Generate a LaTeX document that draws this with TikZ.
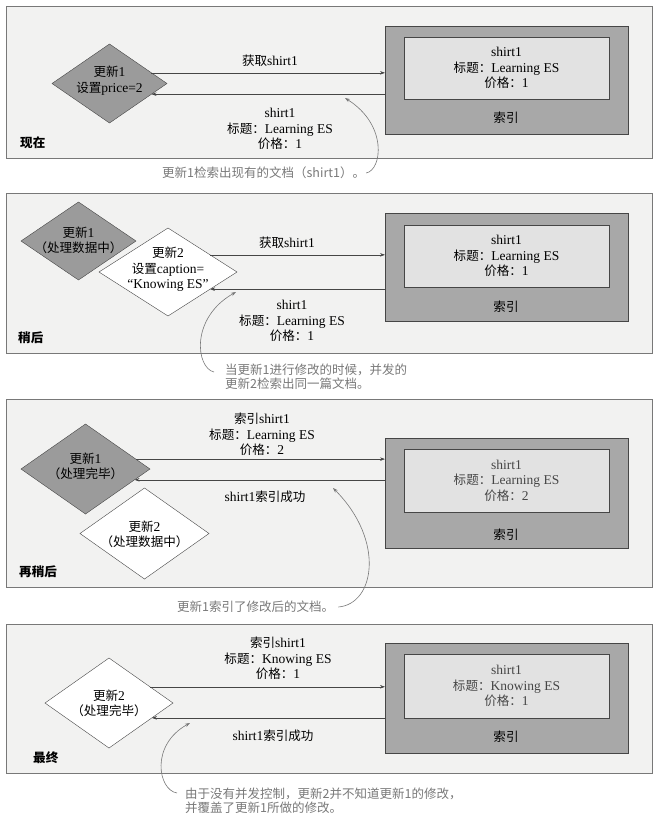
\documentclass[tikz,border=0pt]{standalone}
\usepackage{fontspec}
\setmainfont{Liberation Serif}
\newfontfamily\cjk[Scale=0.93]{Noto Sans CJK SC}
\newfontfamily\notefont{Noto Sans CJK SC}
\newcommand{\zh}[1]{{\cjk #1}}
\usetikzlibrary{shapes.geometric,arrows.meta,calc}
\definecolor{panelgray}{RGB}{242,242,241}
\definecolor{framegray}{RGB}{120,120,120}
\definecolor{indexgray}{RGB}{168,168,168}
\definecolor{docgray}{RGB}{226,226,226}
\definecolor{diamondgray}{RGB}{155,155,155}
\definecolor{linegray}{RGB}{70,70,70}
\definecolor{notegray}{RGB}{120,120,120}
\begin{document}
\begin{tikzpicture}[x=1pt,y=-1pt]
        \tikzstyle{panel}=[draw=framegray,fill=panelgray,line width=0.8pt,anchor=north west,inner sep=0,outer sep=0,minimum width=646]
        \tikzstyle{index box}=[draw=linegray,fill=indexgray,anchor=north west,inner sep=0,outer sep=0,minimum width=243]
        \tikzstyle{doc box}=[draw=linegray,fill=docgray,anchor=north west,inner sep=0,outer sep=0,minimum width=205]
        \tikzstyle{gray node}=[diamond,draw=linegray,fill=diamondgray,inner sep=0,outer sep=0]
        \tikzstyle{white node}=[diamond,draw=linegray,fill=white,inner sep=0,outer sep=0]
        \tikzstyle{txt}=[align=center,inner sep=0,font=\fontsize{13.5}{15.5}\selectfont]
        \tikzstyle{stage}=[anchor=west,inner sep=0,font=\cjk\bfseries\fontsize{13.5}{15}\selectfont]
        \tikzstyle{note}=[align=left,anchor=west,inner sep=0,text=notegray,font=\notefont\fontsize{12.5}{14}\selectfont]
        \tikzstyle{link}=[draw=linegray,line width=0.6pt,-{Stealth[length=5pt,width=3.5pt]}]
        \tikzstyle{hint}=[draw=notegray,line width=0.6pt,-{Stealth[length=5pt,width=3.5pt]}]

        \useasboundingbox (0,0) rectangle (658,820);

        % now
        \node[panel,minimum height=152](f1) at (6,6){};
        \node[index box,minimum height=108](idx1) at (385,26){};
        \node[doc box,minimum height=62](doc1) at (404,37){};
        \node[txt] at (doc1.center){shirt1\\\zh{标题：}Learning ES\\\zh{价格：}1};
        \node[txt] at (506,118){\zh{索引}};
        \node[gray node,minimum width=115,minimum height=79](u1) at (109.5,83.5){};
        \node[txt] at ([yshift=3]u1.center){\zh{更新}1\\\zh{设置}price=2};
        \coordinate(a1) at ($(u1.north)!0.73!(u1.east)$);
        \coordinate(b1) at ($(u1.east)!0.27!(u1.south)$);
        \draw[link] (a1) -- (a1 -| idx1.west);
        \draw[link] (b1 -| idx1.west) -- (b1);
        \node[txt] at (270,61){\zh{获取}shirt1};
        \node[txt] at (280,129){shirt1\\\zh{标题：}Learning ES\\\zh{价格：}1};
        \node[stage] at (20,143){现在};
        \node[note](n1) at (162,173){更新1检索出现有的文档（shirt1）。};
        \coordinate(h1) at (345,98);
        \draw[hint] ([xshift=1]n1.east) .. controls (382,170) and (388,125) .. (h1);

        % later
        \node[panel,minimum height=160](f2) at (6,193){};
        \node[index box,minimum height=108](idx2) at (385,213){};
        \node[doc box,minimum height=62](doc2) at (404,225){};
        \node[txt] at (doc2.center){shirt1\\\zh{标题：}Learning ES\\\zh{价格：}1};
        \node[txt] at (506,307){\zh{索引}};
        \node[gray node,minimum width=115,minimum height=78](u1b) at (78.5,241){};
        \node[txt] at ([yshift=0.5]u1b.center){\zh{更新}1\\\zh{（处理数据中）}};
        \node[white node,minimum width=138,minimum height=88](u2b) at (168,272){};
        \node[txt] at ([yshift=2.5]u2b.center){\zh{更新}2\\\zh{设置}caption=\\“Knowing ES”};
        \coordinate(a2) at ($(u2b.north)!0.61!(u2b.east)$);
        \coordinate(b2) at ($(u2b.east)!0.39!(u2b.south)$);
        \draw[link] (a2) -- (a2 -| idx2.west);
        \draw[link] (b2 -| idx2.west) -- (b2);
        \node[txt] at (287,243){\zh{获取}shirt1};
        \node[txt] at (292,321){shirt1\\\zh{标题：}Learning ES\\\zh{价格：}1};
        \node[stage] at (18,338){稍后};
        \node[note](n2) at (225,377){当更新1进行修改的时候，并发的\\更新2检索出同一篇文档。};
        \coordinate(h2) at (236,292);
        \draw[hint] ([xshift=-11,yshift=5]n2.west) .. controls (196,368) and (190,318) .. (h2);

        % even later
        \node[panel,minimum height=188](f3) at (6,399){};
        \node[index box,minimum height=110](idx3) at (385,438){};
        \node[doc box,minimum height=63](doc3) at (404,449){};
        \node[txt,text=linegray] at (doc3.center){shirt1\\\zh{标题：}Learning ES\\\zh{价格：}2};
        \node[txt] at (506,535){\zh{索引}};
        \node[gray node,minimum width=129,minimum height=90](u1c) at (85.5,469){};
        \node[txt] at ([yshift=2.5]u1c.center){\zh{更新}1\\\zh{（处理完毕）}};
        \node[white node,minimum width=129,minimum height=91](u2c) at (144.5,533.5){};
        \node[txt] at ([yshift=-1]u2c.center){\zh{更新}2\\\zh{（处理数据中）}};
        \coordinate(a3) at ($(u1c.north)!0.78!(u1c.east)$);
        \coordinate(b3) at ($(u1c.east)!0.24!(u1c.south)$);
        \draw[link] (a3) -- (a3 -| idx3.west);
        \draw[link] (b3 -| idx3.west) -- (b3);
        \node[txt] at (262,434.5){\zh{索引}shirt1\\\zh{标题：}Learning ES\\\zh{价格：}2};
        \node[txt] at (265,497){shirt1\zh{索引成功}};
        \node[stage] at (19,572){再稍后};
        \node[note](n3) at (177,607){更新1索引了修改后的文档。};
        \coordinate(h3) at (333,488);
        \draw[hint] ([xshift=4]n3.east) .. controls (375,604) and (385,540) .. (h3);

        % final
        \node[panel,minimum height=149](f4) at (6,624){};
        \node[index box,minimum height=110](idx4) at (385,643){};
        \node[doc box,minimum height=64](doc4) at (404,654){};
        \node[txt,text=linegray] at (doc4.center){shirt1\\\zh{标题：}Knowing ES\\\zh{价格：}1};
        \node[txt] at (506,737){\zh{索引}};
        \node[white node,minimum width=128,minimum height=90](u2d) at (109,703){};
        \node[txt] at ([yshift=-0.5]u2d.center){\zh{更新}2\\\zh{（处理完毕）}};
        \coordinate(a4) at ($(u2d.north)!0.64!(u2d.east)$);
        \coordinate(b4) at ($(u2d.east)!0.33!(u2d.south)$);
        \draw[link] (a4) -- (a4 -| idx4.west);
        \draw[link] (b4 -| idx4.west) -- (b4);
        \node[txt] at (278,658.5){\zh{索引}shirt1\\\zh{标题：}Knowing ES\\\zh{价格：}1};
        \node[txt] at (273,736){shirt1\zh{索引成功}};
        \node[stage] at (33,758){最终};
        \node[note](n4) at (185,801){由于没有并发控制，更新2并不知道更新1的修改，\\并覆盖了更新1所做的修改。};
        \coordinate(h4) at (190,723);
        \draw[hint] ([xshift=-8,yshift=8]n4.west) .. controls (158,790) and (150,745) .. (h4);
    \end{tikzpicture}
\end{document}
